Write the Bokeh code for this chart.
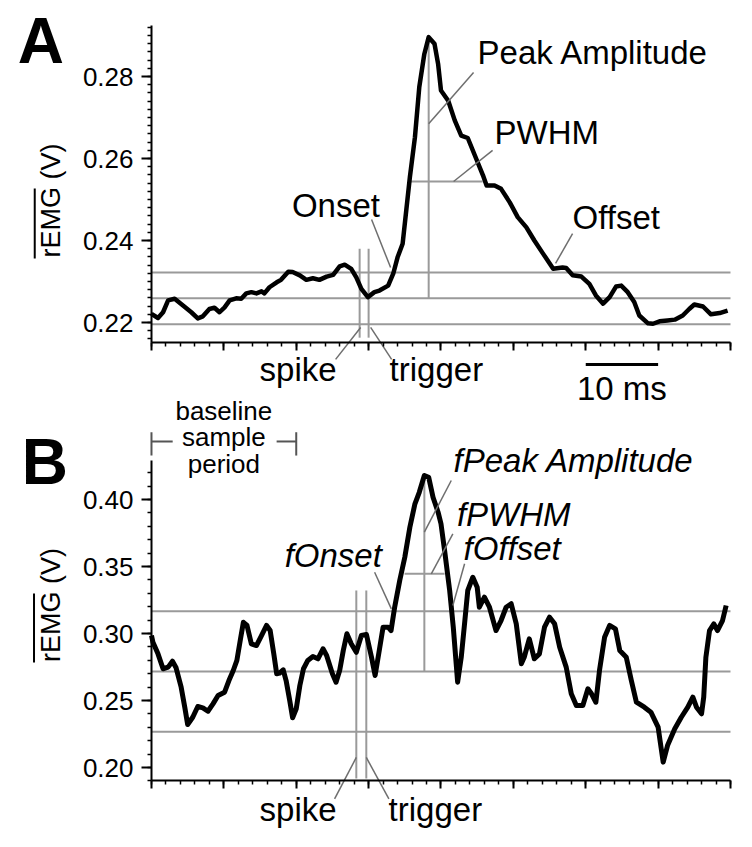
import math
import numpy as np
from bokeh.plotting import figure
from bokeh.models import Range1d, FixedTicker, Label, LinearAxis
from bokeh.embed import file_html
from bokeh.resources import INLINE

# ---------------- data ----------------
time_a = [-30.0, -29.1, -28.4, -27.7, -26.8, -25.6, -24.5, -23.6, -22.9, -22.0, -21.3, -20.6,
          -19.9, -19.2, -18.3, -17.6, -16.9, -16.2, -15.5, -14.8, -14.4, -13.7, -12.7, -12.1,
          -11.1, -10.5, -9.5, -8.6, -7.7, -6.8, -5.8, -4.9, -4.0, -3.3, -2.4, -1.7, -1.0, -0.1,
          0.8, 1.5, 2.7, 3.4, 4.0, 4.7, 5.2, 5.7, 6.4, 7.0, 7.7, 8.3, 9.1, 9.6, 10.0, 11.0,
          11.9, 12.8, 13.7, 14.6, 15.8, 16.3, 17.4, 18.3, 19.5, 20.6, 21.8, 22.9, 24.1, 25.5,
          26.8, 27.3, 28.2, 29.4, 30.5, 31.4, 32.4, 33.3, 34.2, 34.9, 35.8, 36.7, 37.4, 38.6,
          39.3, 40.2, 41.3, 42.3, 43.4, 44.3, 45.0, 46.2, 47.3, 48.5, 49.6]
remg_a = [0.2221, 0.2211, 0.2225, 0.2254, 0.2258, 0.2241, 0.2225, 0.2210, 0.2215, 0.2233, 0.2236, 0.2225,
          0.2237, 0.2254, 0.2259, 0.2258, 0.2271, 0.2274, 0.2271, 0.2276, 0.2271, 0.2286, 0.2298, 0.2304,
          0.2324, 0.2323, 0.2315, 0.2304, 0.2308, 0.2304, 0.2312, 0.2316, 0.2337, 0.2341, 0.2331, 0.2310,
          0.2282, 0.2262, 0.2274, 0.2278, 0.2290, 0.2319, 0.2359, 0.2392, 0.2473, 0.2554, 0.2652, 0.2774,
          0.2855, 0.2896, 0.2880, 0.2831, 0.2766, 0.2741, 0.2693, 0.2656, 0.2650, 0.2611, 0.2559, 0.2534,
          0.2534, 0.2526, 0.2493, 0.2457, 0.2432, 0.2400, 0.2368, 0.2331, 0.2334, 0.2333, 0.2315, 0.2312,
          0.2294, 0.2266, 0.2246, 0.2262, 0.2288, 0.2290, 0.2274, 0.2250, 0.2217, 0.2198, 0.2197, 0.2203,
          0.2205, 0.2207, 0.2217, 0.2233, 0.2244, 0.2239, 0.2220, 0.2223, 0.2229]

time_b = [-30.0, -29.8, -29.1, -28.4, -27.7, -27.1, -26.6, -25.9, -25.4, -25.0, -24.3, -23.6, -22.9,
          -22.2, -21.5, -20.8, -19.9, -19.3, -18.7, -18.2, -17.7, -17.3, -16.8, -16.2, -15.5, -14.8,
          -14.1, -13.6, -13.1, -12.7, -12.3, -11.8, -11.4, -10.9, -10.5, -10.0, -9.5, -9.0, -8.4,
          -7.7, -7.0, -6.3, -5.8, -5.0, -4.5, -4.0, -3.5, -3.0, -2.4, -1.7, -1.0, -0.3, 0.4, 0.9,
          1.4, 2.0, 2.7, 3.1, 3.6, 4.3, 5.0, 5.7, 6.4, 7.0, 7.7, 8.3, 8.9, 9.6, 10.0, 10.5, 11.2,
          11.7, 12.1, 12.3, 12.8, 13.3, 13.7, 14.4, 15.0, 15.3, 16.0, 16.7, 17.6, 18.3, 19.0, 19.7,
          20.4, 21.1, 21.5, 22.2, 22.9, 23.6, 24.3, 25.0, 25.7, 26.4, 27.3, 28.0, 28.7, 29.6, 30.3,
          30.8, 31.4, 31.9, 32.6, 33.3, 34.1, 34.7, 35.6, 36.3, 37.0, 38.1, 39.0, 40.0, 40.4, 40.7,
          41.3, 42.3, 43.2, 44.1, 44.8, 45.3, 46.0, 46.3, 46.6, 47.1, 47.7, 48.2, 48.9, 49.4]
remg_b = [0.2985, 0.2935, 0.2848, 0.2737, 0.2749, 0.2793, 0.2744, 0.2599, 0.2450, 0.2321, 0.2375, 0.2455, 0.2445,
          0.2420, 0.2475, 0.2537, 0.2562, 0.2649, 0.2724, 0.2799, 0.2960, 0.3084, 0.3060, 0.2923, 0.2910, 0.2985,
          0.3060, 0.3022, 0.2848, 0.2699, 0.2704, 0.2729, 0.2649, 0.2500, 0.2371, 0.2438, 0.2612, 0.2737, 0.2799,
          0.2828, 0.2811, 0.2886, 0.2836, 0.2699, 0.2637, 0.2724, 0.2873, 0.2998, 0.2923, 0.2860, 0.2985, 0.2993,
          0.2823, 0.2687, 0.2850, 0.3047, 0.3047, 0.3022, 0.3196, 0.3396, 0.3569, 0.3793, 0.3968, 0.4054, 0.4179,
          0.4166, 0.4017, 0.3905, 0.3819, 0.3619, 0.3321, 0.3047, 0.2774, 0.2637, 0.2823, 0.3097, 0.3321, 0.3420,
          0.3346, 0.3196, 0.3271, 0.3196, 0.3022, 0.3097, 0.3196, 0.3222, 0.3072, 0.2774, 0.2823, 0.2960, 0.2811,
          0.2848, 0.3047, 0.3122, 0.3072, 0.2898, 0.2749, 0.2550, 0.2463, 0.2463, 0.2587, 0.2550, 0.2487, 0.2724,
          0.2972, 0.3060, 0.3035, 0.2873, 0.2823, 0.2649, 0.2487, 0.2450, 0.2413, 0.2301, 0.2151, 0.2040, 0.2164,
          0.2289, 0.2375, 0.2450, 0.2525, 0.2450, 0.2401, 0.2525, 0.2823, 0.3022, 0.3072, 0.3022, 0.3097, 0.3209]

x_major_ticks = [-30, -20, -10, 0, 10, 20, 30, 40, 50]
x_minor_ticks = list(range(-30, 51, 2))
y_ticks_a = [0.22, 0.24, 0.26, 0.28]
y_tick_labels_a = ["0.22", "0.24", "0.26", "0.28"]
y_ticks_b = [0.20, 0.25, 0.30, 0.35, 0.40]
y_tick_labels_b = ["0.20", "0.25", "0.30", "0.35", "0.40"]

# event markers and derived levels (read values)
baseline_a, band_a = 0.2259, 0.0063
baseline_b, band_b = 0.2716, 0.0450
spike_a, trigger_a = -1.24, 0.0
spike_b, trigger_b = -1.70, -0.32
half_level_a, pwhm_a = 0.2544, (5.66, 15.75)
half_level_b, pwhm_b = 0.3445, (4.97, 10.50)
baseline_period = (-30.0, -10.0)
scale_bar = (30.0, 40.0)
x_lo, x_hi = -30, 50
axis_a = (0.21512, 0.29244)
axis_b = (0.19030, 0.42910)

FONT = "Liberation Sans"
GRAY = "#9a9a9a"
LEAD = "#6e6e6e"
BASE_SHIFT = 0.39  # fraction of font size: lifts Label text onto its alphabetic baseline

# one canvas, two vertical scales: default range for panel A, "b" for panel B
p = figure(width=752, height=847, x_range=Range1d(-50.86, 53.04),
           y_range=Range1d(0.091951, 0.298537),
           min_border_left=0, min_border_right=0, min_border_top=0, min_border_bottom=0,
           output_backend="svg", toolbar_location=None)
p.extra_y_ranges = {"b": Range1d(0.140299, 0.772388)}
p.grid.visible = False
p.outline_line_color = None
p.background_fill_color = "white"
p.border_fill_color = "white"


def style_x(xa, loc, rname):
    xa.y_range_name = rname
    xa.fixed_location = loc
    xa.bounds = (x_lo, x_hi)
    xa.ticker = FixedTicker(ticks=x_major_ticks, minor_ticks=x_minor_ticks)
    xa.major_label_overrides = {t: "" for t in x_major_ticks}
    xa.axis_line_width = 2
    xa.major_tick_line_width = 2
    xa.major_tick_out = 8
    xa.major_tick_in = 0
    xa.minor_tick_out = 4
    xa.minor_tick_in = 0
    xa.minor_tick_line_width = 1.5


def style_y(ya, bounds, yticks, ylabels, yminor, rname):
    ya.y_range_name = rname
    ya.fixed_location = x_lo
    ya.bounds = bounds
    ya.ticker = FixedTicker(ticks=yticks, minor_ticks=yminor)
    ya.major_label_overrides = dict(zip(yticks, ylabels))
    ya.major_label_text_font = FONT
    ya.major_label_text_font_size = "26px"
    ya.major_label_text_color = "black"
    ya.major_label_standoff = 8
    ya.axis_line_width = 2
    ya.major_tick_line_width = 2
    ya.major_tick_out = 10
    ya.major_tick_in = 0
    ya.minor_tick_out = 4
    ya.minor_tick_in = 0
    ya.minor_tick_line_width = 1.5


style_x(p.xaxis[0], axis_a[0], "default")
style_y(p.yaxis[0], axis_a, y_ticks_a, y_tick_labels_a,
        np.round(np.arange(0.216, 0.2925, 0.002), 4).tolist(), "default")
xb = LinearAxis()
style_x(xb, axis_b[0], "b")
p.add_layout(xb, "below")
yb = LinearAxis()
style_y(yb, axis_b, y_ticks_b, y_tick_labels_b,
        np.round(np.arange(0.19, 0.4295, 0.01), 3).tolist(), "b")
p.add_layout(yb, "left")


def label(x, y, text, rname, size=33, align="left", style="normal", rotated=False):
    shift = BASE_SHIFT * size
    p.add_layout(Label(x=x, y=y, text=text, y_range_name=rname, text_font=FONT,
                       text_font_size=f"{size}px", text_align=align, text_baseline="alphabetic",
                       text_font_style=style, text_color="black",
                       angle=math.pi / 2 if rotated else 0.0,
                       x_offset=-shift if rotated else 0, y_offset=0 if rotated else shift))


def segs(x0, y0, x1, y1, rname, color=LEAD, width=1.5):
    p.segment(x0=x0, y0=y0, x1=x1, y1=y1, line_color=color, line_width=width, y_range_name=rname)


# ---------------- panel A ----------------
A = "default"
levels_a = [baseline_a - band_a, baseline_a, baseline_a + band_a]
segs([x_lo] * 3, levels_a, [x_hi] * 3, levels_a, A, color=GRAY, width=2)
ia = int(np.argmax(remg_a))
tpa, vpa = time_a[ia], remg_a[ia]
segs([spike_a, trigger_a], [0.2163, 0.2163], [spike_a, trigger_a], [0.2380, 0.2380], A, color=GRAY, width=2)
segs([tpa], [baseline_a], [tpa], [vpa], A, color=GRAY, width=2)
segs([pwhm_a[0]], [half_level_a], [pwhm_a[1]], [half_level_a], A, color=GRAY, width=2)
p.line(time_a, remg_a, line_color="black", line_width=4.5, line_join="round")

# leaders: Onset, Peak Amplitude, PWHM, Offset, spike, trigger
segs([0.41, 14.50, 17.13, 28.18, spike_a + 0.14, trigger_a + 0.28],
     [0.2451, 0.2810, 0.2620, 0.2417, 0.2188, 0.2188],
     [3.04, tpa, 11.74, 25.83, -4.56, 3.18],
     [0.2334, 0.2685, half_level_a, 0.2344, 0.2110, 0.2110], A)
segs([scale_bar[0]], [0.20976], [scale_bar[1]], [0.20976], A, color="black", width=3)
segs([-46.13], [0.23561], [-46.13], [0.25268], A, color="black", width=2)

label(15.06, 0.28268, "Peak Amplitude", A)
label(17.40, 0.26317, "PWHM", A)
label(-10.60, 0.24537, "Onset", A)
label(28.18, 0.24244, "Offset", A)
label(-15.06, 0.20537, "spike", A)
label(2.90, 0.20537, "trigger", A)
label(sum(scale_bar) / 2, 0.20073, "10 ms", A, align="center")
label(-48.48, 0.28268, "A", A, size=64, style="bold")
label(-42.40, 0.24976, "rEMG (V)", A, size=27, align="center", rotated=True)

# ---------------- panel B ----------------
B = "b"
levels_b = [baseline_b - band_b, baseline_b, baseline_b + band_b]
segs([x_lo] * 3, levels_b, [x_hi] * 3, levels_b, B, color=GRAY, width=2)
ib = int(np.argmax(remg_b))
tpb, vpb = time_b[ib], remg_b[ib]
segs([spike_b, trigger_b], [0.1918, 0.1918], [spike_b, trigger_b], [0.3321, 0.3321], B, color=GRAY, width=2)
segs([tpb], [baseline_b], [tpb], [vpb], B, color=GRAY, width=2)
segs([pwhm_b[0]], [half_level_b], [pwhm_b[1]], [half_level_b], B, color=GRAY, width=2)
p.line(time_b, remg_b, line_color="black", line_width=5, line_join="round", y_range_name=B)

# leaders: fOnset, fPeak, fPWHM, fOffset, spike, trigger
segs([0.83, 11.42, 11.64, 13.26, spike_b, trigger_b],
     [0.3457, 0.4142, 0.3744, 0.3520, 0.2075, 0.2075],
     [3.14, tpb, 8.66, 11.64, -4.70, 2.80],
     [0.3184, 0.3756, half_level_b, 0.3209, 0.1766, 0.1766], B)
segs([-46.23], [0.2784], [-46.23], [0.3299], B, color="black", width=2)

label(11.74, 0.4194, "fPeak Amplitude", B, style="italic")
label(12.20, 0.3793, "fPWHM", B, style="italic")
label(13.12, 0.3537, "fOffset", B, style="italic")
label(-11.60, 0.3485, "fOnset", B, style="italic")
label(-15.06, 0.1590, "spike", B)
label(2.76, 0.1590, "trigger", B)
label(-47.93, 0.4097, "B", B, size=64, style="bold")
label(-42.40, 0.3213, "rEMG (V)", B, size=27, align="center", rotated=True)

bp0, bp1 = baseline_period
mid = (bp0 + bp1) / 2
label(mid, 0.4582, "baseline", B, size=26, align="center")
label(mid, 0.4388, "sample", B, size=26, align="center")
label(mid, 0.4187, "period", B, size=26, align="center")
segs([bp0, bp1, bp0, bp1 - 2.71], [0.4502, 0.4502, 0.4433, 0.4433],
     [bp0, bp1, bp0 + 2.93, bp1], [0.4328, 0.4328, 0.4433, 0.4433], B, color="#555555", width=2)

open("out.html", "w").write(file_html(p, INLINE))
